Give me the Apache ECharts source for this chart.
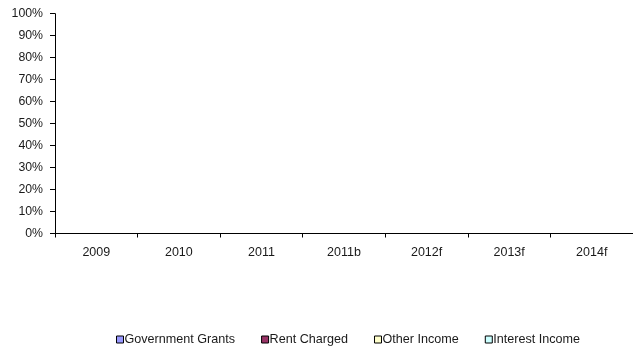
<!DOCTYPE html>
<html>
<head>
<meta charset="utf-8">
<script src="https://cdn.jsdelivr.net/npm/echarts@6/dist/echarts.min.js"></script>
<style>
  html, body { margin: 0; padding: 0; background: #fff; }
  #chart { width: 633px; height: 352px; }
</style>
</head>
<body>
<div id="chart"></div>
<script>
// Income mix by year (share of total, %)
const categories = ['2009', '2010', '2011', '2011b', '2012f', '2013f', '2014f'];
const governmentGrants = [0, 0, 0, 0, 0, 0, 0];
const rentCharged      = [0, 0, 0, 0, 0, 0, 0];
const otherIncome      = [0, 0, 0, 0, 0, 0, 0];
const interestIncome   = [0, 0, 0, 0, 0, 0, 0];
const yTicks = { min: 0, max: 100, step: 10 };

const FONT = '"Liberation Sans", Arial, sans-serif';
const TEXT = '#1a1a1a';

function barSeries(name, data, color) {
  return {
    name: name,
    type: 'bar',
    stack: 'income',
    data: data,
    barCategoryGap: '50%',
    itemStyle: { color: color, borderColor: '#000', borderWidth: 1 }
  };
}

const chart = echarts.init(document.getElementById('chart'), null, { renderer: 'canvas' });
chart.setOption({
  animation: false,
  backgroundColor: '#fff',
  grid: { left: 55, right: -6, top: 13.7, bottom: 118.5, containLabel: false },
  xAxis: {
    type: 'category',
    data: categories,
    boundaryGap: true,
    axisLine: { show: true, lineStyle: { color: '#000', width: 1 } },
    axisTick: { show: true, length: 4, alignWithLabel: false, lineStyle: { color: '#000' } },
    axisLabel: { color: TEXT, fontFamily: FONT, fontSize: 12.5, margin: 13, interval: 0 },
    splitLine: { show: false }
  },
  yAxis: {
    type: 'value',
    min: yTicks.min,
    max: yTicks.max,
    interval: yTicks.step,
    axisLine: { show: true, lineStyle: { color: '#000', width: 1 } },
    axisTick: { show: true, length: 5, lineStyle: { color: '#000' } },
    axisLabel: { color: TEXT, fontFamily: FONT, fontSize: 12.3, margin: 12, formatter: '{value}%' },
    splitLine: { show: false }
  },
  legend: {
    left: 116,
    top: 333,
    icon: 'rect',
    itemWidth: 7,
    itemHeight: 7,
    itemGap: 26,
    padding: [0, 0, 0, 0],
    itemStyle: { borderColor: '#000', borderWidth: 1 },
    textStyle: { color: TEXT, fontFamily: FONT, fontSize: 12.6, padding: [0, 0, 0, -4] }
  },
  series: [
    barSeries('Government Grants', governmentGrants, '#9999FF'),
    barSeries('Rent Charged', rentCharged, '#993366'),
    barSeries('Other Income', otherIncome, '#FFFFCC'),
    barSeries('Interest Income', interestIncome, '#CCFFFF')
  ]
});
</script>
</body>
</html>
